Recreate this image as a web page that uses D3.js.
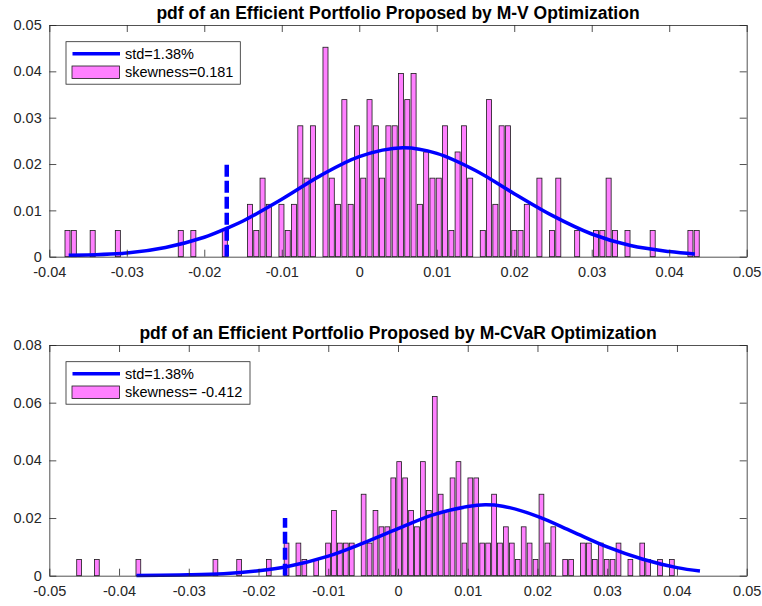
<!DOCTYPE html>
<html>
<head>
<meta charset="utf-8">
<script src="https://cdn.jsdelivr.net/npm/d3@7"></script>
<style>
  body { margin: 0; background: #fff; }
  svg { display: block; font-family: "Liberation Sans", Arial, Helvetica, sans-serif; }
  .tick text { fill: #262626; font-size: 14.5px; }
  .tick line, .domain { stroke: #262626; stroke-width: 0.8; }
</style>
</head>
<body>
<div id="chart"></div>
<script>
// Histogram counts per bin (177 returns in each sample)
const sampleSize = 177;

const mvCounts = [
  1,1,0,0,1,0,0,0,1,0,
  0,0,0,0,0,0,0,0,1,0,
  1,0,0,0,0,1,0,0,0,2,
  1,3,2,0,2,1,2,5,3,5,
  0,8,3,2,6,2,5,3,6,5,
  3,5,5,7,6,7,2,4,3,3,
  5,1,4,5,3,0,1,6,2,5,
  5,1,1,2,0,3,0,1,3,0,
  0,1,0,0,1,1,3,1,0,1,
  0,0,0,1,0,0,0,0,0,1,
  1
];
const mvFirstCenter = -0.03765;
const mvBinStep = 0.000812;

const cvarCounts = [
  1,0,0,1,0,0,0,0,0,0,
  1,0,0,0,0,0,0,0,0,0,
  0,0,0,1,0,0,0,1,0,0,
  0,0,1,0,0,2,0,2,1,0,
  1,0,2,4,2,2,2,0,5,2,
  4,3,3,6,7,6,4,3,7,4,
  11,5,4,6,7,2,6,6,2,2,
  5,2,3,2,1,3,2,1,5,2,
  3,0,1,1,0,2,2,1,2,1,
  1,2,0,1,0,2,1,0,1,0,
  1
];
const cvarFirstCenter = -0.04573;
const cvarBinStep = 0.000850;

// Fitted normal curve
const mvCurveX = [-0.0375, -0.03, -0.025, -0.02, -0.017, -0.015, -0.01, -0.005, 0, 0.0056, 0.01, 0.015, 0.02, 0.025, 0.03, 0.035, 0.04, 0.0433];
const mvCurveY = [0.0003, 0.0008, 0.0020, 0.0042, 0.0062, 0.0077, 0.0124, 0.0175, 0.0216, 0.0235, 0.0223, 0.0186, 0.0136, 0.0088, 0.0049, 0.0024, 0.0011, 0.0006];

const cvarCurveX = [-0.0375, -0.03, -0.025, -0.02, -0.016, -0.01, -0.005, 0, 0.005, 0.01, 0.0125, 0.015, 0.02, 0.025, 0.03, 0.035, 0.04, 0.0433];
const cvarCurveY = [0.0001, 0.0003, 0.0007, 0.0017, 0.0031, 0.0068, 0.0113, 0.0163, 0.0211, 0.0240, 0.0246, 0.0241, 0.0206, 0.0153, 0.0100, 0.0058, 0.0028, 0.0016];

// VaR markers (dashed lines)
const mvVaR = -0.0171;
const cvarVaR = -0.0162;
const varLineTop = 0.02;

// Ticks
const mvXTicks = [-0.04, -0.03, -0.02, -0.01, 0, 0.01, 0.02, 0.03, 0.04, 0.05];
const mvYTicks = [0, 0.01, 0.02, 0.03, 0.04, 0.05];
const cvarXTicks = [-0.05, -0.04, -0.03, -0.02, -0.01, 0, 0.01, 0.02, 0.03, 0.04, 0.05];
const cvarYTicks = [0, 0.02, 0.04, 0.06, 0.08];

const titles = [
  "pdf of an Efficient Portfolio Proposed by M-V Optimization",
  "pdf of an Efficient Portfolio Proposed by M-CVaR Optimization"
];
const legendLine = ["std=1.38%", "std=1.38%"];
const legendPatch = ["skewness=0.181", "skewness= -0.412"];

const W = 762, H = 606;
const svg = d3.select("#chart").append("svg")
  .attr("width", W)
  .attr("height", H);

svg.append("rect").attr("width", W).attr("height", H).attr("fill", "#fff");

const fmt = d => Math.abs(d) < 1e-9 ? "0" : d.toFixed(2);

function drawPanel(p) {
  const x = d3.scaleLinear().domain(p.xDomain).range([49.3, 746.7]);
  const y = d3.scaleLinear().domain(p.yDomain).range([p.bottom, p.top]);
  const g = svg.append("g");

  const bins = p.counts.map((c, i) => ({
    center: p.firstCenter + i * p.step,
    value: c / sampleSize
  })).filter(d => d.value > 0);

  // bars (MATLAB bar width 0.8)
  g.selectAll("rect.bar")
    .data(bins)
    .enter()
    .append("rect")
    .attr("class", "bar")
    .attr("x", d => x(d.center - 0.4 * p.step))
    .attr("width", d => x(d.center + 0.4 * p.step) - x(d.center - 0.4 * p.step))
    .attr("y", d => y(d.value))
    .attr("height", d => y(0) - y(d.value))
    .attr("fill", "#ff80ff")
    .attr("stroke", "#1a1a1a")
    .attr("stroke-width", 0.8);

  // dashed VaR line
  g.append("line")
    .attr("x1", x(p.varX)).attr("x2", x(p.varX))
    .attr("y1", y(0)).attr("y2", y(varLineTop))
    .attr("stroke", "#0000ff")
    .attr("stroke-width", 4.5)
    .attr("stroke-dasharray", "12,4");

  // normal curve
  const pts = p.curveX.map((v, i) => [v, p.curveY[i]]);
  g.append("path")
    .datum(pts)
    .attr("fill", "none")
    .attr("stroke", "#0000ff")
    .attr("stroke-width", 3.5)
    .attr("d", d3.line()
      .x(d => x(d[0]))
      .y(d => y(d[1]))
      .curve(d3.curveCatmullRom.alpha(0.5)));

  // axes (ticks inside, box on)
  g.append("g")
    .attr("transform", `translate(0,${p.bottom})`)
    .call(d3.axisBottom(x).tickValues(p.xTicks).tickSizeInner(-7).tickSizeOuter(0).tickPadding(10).tickFormat(fmt));
  g.append("g")
    .attr("transform", `translate(0,${p.top})`)
    .call(d3.axisTop(x).tickValues(p.xTicks).tickSizeInner(-7).tickSizeOuter(0).tickFormat(""));
  g.append("g")
    .attr("transform", `translate(49.3,0)`)
    .call(d3.axisLeft(y).tickValues(p.yTicks).tickSizeInner(-7).tickSizeOuter(0).tickPadding(7.6).tickFormat(fmt));
  g.append("g")
    .attr("transform", `translate(746.7,0)`)
    .call(d3.axisRight(y).tickValues(p.yTicks).tickSizeInner(-7).tickSizeOuter(0).tickFormat(""));

  // title
  g.append("text")
    .attr("x", 398)
    .attr("y", p.titleY)
    .attr("text-anchor", "middle")
    .attr("font-weight", "bold")
    .attr("font-size", "17.5px")
    .attr("fill", "#000")
    .text(p.title);

  // legend
  const lg = g.append("g").attr("transform", `translate(66,${p.legendTop})`);
  lg.append("rect")
    .attr("width", p.legendW).attr("height", 42.5)
    .attr("fill", "#fff")
    .attr("stroke", "#262626")
    .attr("stroke-width", 0.8);
  lg.append("line")
    .attr("x1", 6.5).attr("x2", 54)
    .attr("y1", 12).attr("y2", 12)
    .attr("stroke", "#0000ff")
    .attr("stroke-width", 3.5);
  lg.append("rect")
    .attr("x", 6).attr("y", 24.3)
    .attr("width", 47.5).attr("height", 12.5)
    .attr("fill", "#ff80ff")
    .attr("stroke", "#1a1a1a")
    .attr("stroke-width", 0.8);
  lg.append("text")
    .attr("x", 59).attr("y", 17)
    .attr("font-size", "14.5px")
    .attr("fill", "#000")
    .text(p.lineLabel);
  lg.append("text")
    .attr("x", 59).attr("y", 35.5)
    .attr("font-size", "14.5px")
    .attr("fill", "#000")
    .text(p.patchLabel);
}

drawPanel({
  xDomain: [-0.04, 0.05], yDomain: [0, 0.05],
  top: 25, bottom: 256.7,
  counts: mvCounts, firstCenter: mvFirstCenter, step: mvBinStep,
  curveX: mvCurveX, curveY: mvCurveY, varX: mvVaR,
  xTicks: mvXTicks, yTicks: mvYTicks,
  title: titles[0], titleY: 19.3,
  legendTop: 41.7, legendW: 174.3,
  lineLabel: legendLine[0], patchLabel: legendPatch[0]
});

drawPanel({
  xDomain: [-0.05, 0.05], yDomain: [0, 0.08],
  top: 345, bottom: 575.7,
  counts: cvarCounts, firstCenter: cvarFirstCenter, step: cvarBinStep,
  curveX: cvarCurveX, curveY: cvarCurveY, varX: cvarVaR,
  xTicks: cvarXTicks, yTicks: cvarYTicks,
  title: titles[1], titleY: 339.3,
  legendTop: 361.7, legendW: 184,
  lineLabel: legendLine[1], patchLabel: legendPatch[1]
});
</script>
</body>
</html>
